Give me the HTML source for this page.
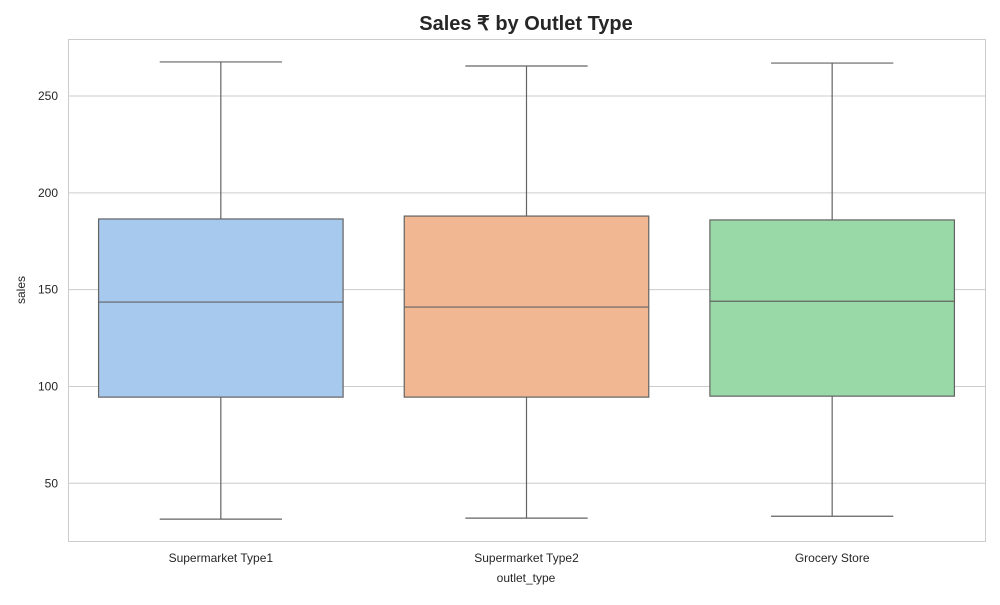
<!DOCTYPE html>
<html><head><meta charset="utf-8"><style>
body{margin:0;background:#fff;font-family:"Liberation Sans",Arial,sans-serif;}
</style></head><body>
<svg id="chart" width="1000" height="600" xmlns="http://www.w3.org/2000/svg">
<text x="526" y="30" text-anchor="middle" font-size="20" font-weight="bold" fill="#262626">Sales ₹ by Outlet Type</text>
<g id="grid"></g>
<rect x="68.5" y="39.5" width="917" height="502" fill="none" stroke="#cccccc"/>
<g id="boxes"></g>
<text x="526" y="582" text-anchor="middle" font-size="12" fill="#262626">outlet_type</text>
<text x="25" y="290" text-anchor="middle" font-size="12" fill="#262626" transform="rotate(-90 25 290)">sales</text>
</svg>
<script>
const categories=["Supermarket Type1","Supermarket Type2","Grocery Store"];
const whiskerLow=[31.5,32,33];
const q1=[94.5,94.5,95];
const median=[143.6,141,144];
const q3=[186.5,188,186];
const whiskerHigh=[267.6,265.5,267];
const colors=["#a8c9ee","#f0b792","#98d9a7"];
const yTicks=[50,100,150,200,250];
const NS="http://www.w3.org/2000/svg";
const x0=68,x1=985;
const band=(x1-x0)/categories.length;
function y(v){return 96+(250-v)*1.9365;}
function xc(i){return x0+band*(i+0.5);}
function mk(t,a,p){const e=document.createElementNS(NS,t);for(const k in a)e.setAttribute(k,a[k]);p.appendChild(e);return e;}
const grid=document.getElementById('grid');
yTicks.forEach(t=>{
 const l=mk('line',{x1:x0,x2:x1,y1:y(t),y2:y(t),stroke:'#cccccc'},grid);
 
 
 const tx=mk('text',{x:58,y:y(t)+4,'text-anchor':'end','font-size':12,fill:'#262626'},grid);
 tx.textContent=t;
 
 
});
const g=document.getElementById('boxes');
categories.forEach((c,i)=>{
 const cx=xc(i),bw=band*0.8,cw=bw/2,st='#636363';
 const grp=mk('g',{},g);
 
 
 mk('line',{x1:cx,x2:cx,y1:y(whiskerHigh[i]),y2:y(q3[i]),stroke:st,'stroke-width':1.2},grp);
 mk('line',{x1:cx,x2:cx,y1:y(q1[i]),y2:y(whiskerLow[i]),stroke:st,'stroke-width':1.2},grp);
 mk('line',{x1:cx-cw/2,x2:cx+cw/2,y1:y(whiskerHigh[i]),y2:y(whiskerHigh[i]),stroke:st,'stroke-width':1.2},grp);
 mk('line',{x1:cx-cw/2,x2:cx+cw/2,y1:y(whiskerLow[i]),y2:y(whiskerLow[i]),stroke:st,'stroke-width':1.2},grp);
 mk('rect',{x:cx-bw/2,y:y(q3[i]),width:bw,height:y(q1[i])-y(q3[i]),fill:colors[i],stroke:st,'stroke-width':1.2},grp);
 mk('line',{x1:cx-bw/2,x2:cx+bw/2,y1:y(median[i]),y2:y(median[i]),stroke:st,'stroke-width':1.2},grp);
 const tx=mk('text',{x:cx,y:562,'text-anchor':'middle','font-size':12,fill:'#262626'},g);
 tx.textContent=c;
 
 
});
</script>
</body></html>
